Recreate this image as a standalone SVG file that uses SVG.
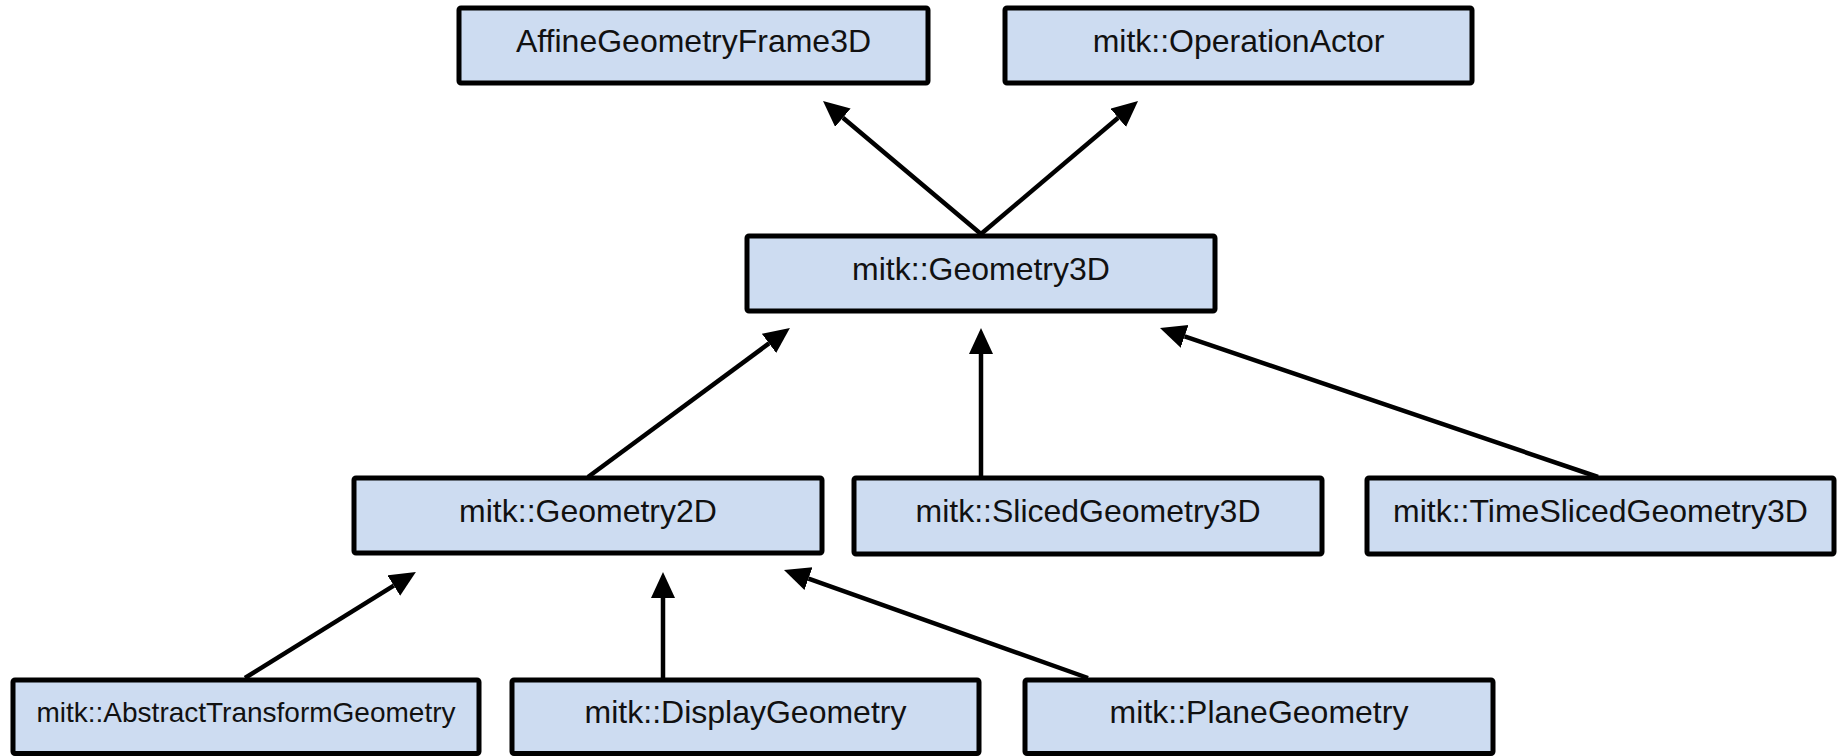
<svg xmlns="http://www.w3.org/2000/svg" width="1837" height="756" viewBox="0 0 1837 756">
  <style>
    .box { fill: #cddcf1; stroke: #000; stroke-width: 5; }
    .lbl { font-family: "Liberation Sans", Arial, sans-serif; font-size: 32px; fill: #111; text-anchor: middle; }
    .small { font-size: 28px; }
    .edge { stroke: #000; stroke-width: 4.5; fill: none; marker-end: url(#head); }
  </style>
  <defs>
    <marker id="head" markerUnits="userSpaceOnUse" markerWidth="28" markerHeight="26" refX="0" refY="12" orient="auto">
      <path d="M0,0 L26,12 L0,24 z" fill="#000"/>
    </marker>
  </defs>

  <!-- inheritance connectors -->
  <g id="connectors">
    <line class="edge" x1="981" y1="234" x2="842.9" y2="117.7"/>
    <line class="edge" x1="981" y1="234" x2="1118.2" y2="117.8"/>
    <line class="edge" x1="588" y1="477" x2="769" y2="343.4"/>
    <line class="edge" x1="981" y1="477" x2="981" y2="354"/>
    <line class="edge" x1="1598" y1="477" x2="1184.6" y2="336.3"/>
    <line class="edge" x1="245" y1="678" x2="393.8" y2="585.6"/>
    <line class="edge" x1="663" y1="678" x2="663" y2="598"/>
    <line class="edge" x1="1088" y1="678" x2="808.5" y2="578.6"/>
  </g>

  <g id="affine">
    <rect class="box" x="459" y="8" width="469" height="75" rx="2"/>
    <text class="lbl" x="693.5" y="52">AffineGeometryFrame3D</text>
  </g>
  <g id="operationActor">
    <rect class="box" x="1005" y="8" width="467" height="75" rx="2"/>
    <text class="lbl" x="1238.5" y="52">mitk::OperationActor</text>
  </g>
  <g id="geometry3d">
    <rect class="box" x="747" y="236" width="468" height="75" rx="2"/>
    <text class="lbl" x="981" y="280">mitk::Geometry3D</text>
  </g>
  <g id="geometry2d">
    <rect class="box" x="354" y="478" width="468" height="75" rx="2"/>
    <text class="lbl" x="588" y="522">mitk::Geometry2D</text>
  </g>
  <g id="slicedGeometry3d">
    <rect class="box" x="854" y="478" width="468" height="76" rx="2"/>
    <text class="lbl" x="1088" y="522">mitk::SlicedGeometry3D</text>
  </g>
  <g id="timeSlicedGeometry3d">
    <rect class="box" x="1367" y="478" width="467" height="76" rx="2"/>
    <text class="lbl" x="1600.5" y="522">mitk::TimeSlicedGeometry3D</text>
  </g>
  <g id="abstractTransformGeometry">
    <rect class="box" x="13" y="680" width="466" height="73.5" rx="2"/>
    <text class="lbl small" x="246" y="722">mitk::AbstractTransformGeometry</text>
  </g>
  <g id="displayGeometry">
    <rect class="box" x="512" y="680" width="467" height="73.5" rx="2"/>
    <text class="lbl" x="745.5" y="723">mitk::DisplayGeometry</text>
  </g>
  <g id="planeGeometry">
    <rect class="box" x="1025" y="680" width="468" height="73.5" rx="2"/>
    <text class="lbl" x="1259" y="723">mitk::PlaneGeometry</text>
  </g>
</svg>
